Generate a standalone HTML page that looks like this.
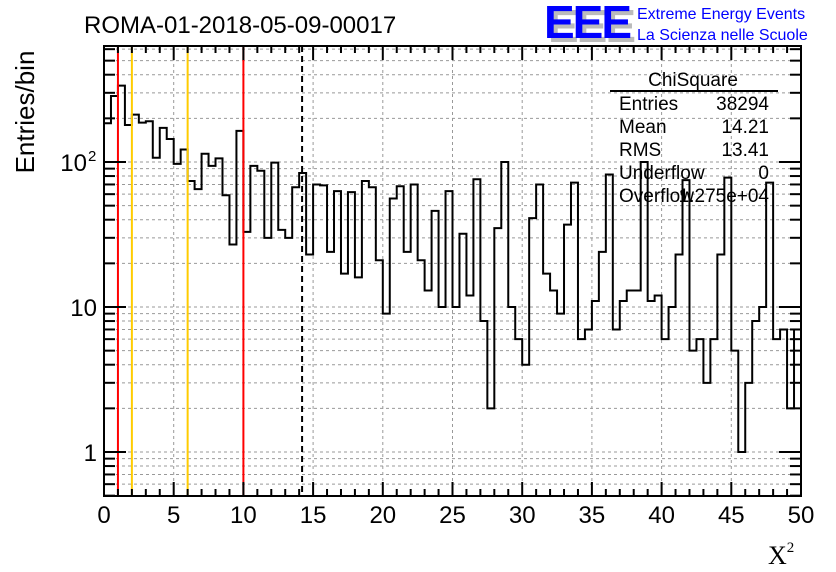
<!DOCTYPE html>
<html><head><meta charset="utf-8"><style>
body{margin:0;background:#fff;width:836px;height:572px;overflow:hidden}
svg{display:block;font-family:"Liberation Sans",sans-serif}
</style></head><body>
<svg id="c" width="836" height="572">
<text x="84" y="33" font-size="24">ROMA-01-2018-05-09-00017</text>
<g>
<text x="548" y="42" font-size="46" font-weight="bold" fill="#bbb" letter-spacing="-2">EEE</text>
<text x="544" y="38" font-size="46" font-weight="bold" fill="#0000ff" letter-spacing="-2">EEE</text>
<text x="637" y="19" font-size="16" fill="#0000ff">Extreme Energy Events</text>
<text x="637" y="40" font-size="16" fill="#0000ff">La Scienza nelle Scuole</text>
</g>
<text transform="translate(34,112) rotate(-90)" text-anchor="middle" font-size="26">Entries/bin</text>
<text x="768" y="564" font-size="26" font-family="Liberation Serif,serif">X<tspan font-size="15" dy="-12">2</tspan></text>
<g id="grid"></g><g id="marks"></g><g id="axes"></g>
<g font-size="19">
<text x="693" y="86" text-anchor="middle">ChiSquare</text>
<line x1="610" y1="91" x2="778" y2="91" stroke="#000" stroke-width="2"/>
<text x="619" y="110">Entries</text><text x="769" y="110" text-anchor="end">38294</text>
<text x="619" y="133">Mean</text><text x="769" y="133" text-anchor="end">14.21</text>
<text x="619" y="156">RMS</text><text x="769" y="156" text-anchor="end">13.41</text>
<text x="619" y="179">Underflow</text><text x="769" y="179" text-anchor="end">0</text>
<text x="619" y="202">Overflow</text><text x="769" y="202" text-anchor="end">1.275e+04</text>
</g>
</svg>
<script>
const counts=[185,285,336,180,212,187,191,107,172,144,97,122,74,65,114,94,106,59,27,164,
33,94,87,30,99,34,30,67,84,23,70,69,24,63,17,62,16,74,67,21,
9,56,68,24,70,21,13,46,10,63,10,32,12,76,8,2,35,100,10,6,
4,41,70,17,13,9,37,72,6,7,11,24,82,7,11,13,13,100,11,12,
6,10,23,75,5,6,3,6,23,78,5,1,3,8,10,72,6,7,2,7];
const xTicks=[0,5,10,15,20,25,30,35,40,45,50];
const yTicks=[1,10,100];
const yTickLabels=["1","10","10"];
const vLinesRed=[1,10];
const vLinesOrange=[2,6];
const meanLine=[14.21];
const binWidth=0.5;
const L=104,R=801,T=46,B=496;
const X=v=>L+(R-L)*v/50;
const Y=v=>452-145*Math.log10(v);
const NS="http://www.w3.org/2000/svg";
function mk(p,t,a){const e=document.createElementNS(NS,t);for(const k in a)e.setAttribute(k,a[k]);p.appendChild(e);return e;}
const grid=document.getElementById('grid'),marks=document.getElementById('marks'),axes=document.getElementById('axes');
for(const v of xTicks){if(v>0&&v<50){const g=mk(grid,'line',{x1:X(v),x2:X(v),y1:T,y2:B,stroke:'#999','stroke-dasharray':'3,3'});

}}
const minorY=[];for(let d=0.1;d<=100;d*=10)for(let m=1;m<10;m++){const v=d*m;if(Y(v)<B&&Y(v)>T)minorY.push(v);}
for(const v of minorY){const g=mk(grid,'line',{x1:L,x2:R,y1:Y(v),y2:Y(v),stroke:'#999','stroke-dasharray':'3,3'});

}
let d='M'+X(0)+','+Y(counts[0]);
counts.forEach((c,i)=>{d+=' L'+X(i*binWidth)+','+Y(c)+' L'+X((i+1)*binWidth)+','+Y(c);});
const h=mk(marks,'path',{d:d,fill:'none',stroke:'#000','stroke-width':2});


for(const v of vLinesRed){const l=mk(marks,'line',{x1:X(v),x2:X(v),y1:T,y2:B,stroke:'#f00','stroke-width':2});

}
for(const v of vLinesOrange){const l=mk(marks,'line',{x1:X(v),x2:X(v),y1:T,y2:B,stroke:'#fc0','stroke-width':2});

}
for(const v of meanLine){const l=mk(marks,'line',{x1:X(v),x2:X(v),y1:T,y2:B,stroke:'#000','stroke-width':2,'stroke-dasharray':'6,4'});

}
const f=mk(axes,'rect',{x:L,y:T,width:R-L,height:B-T,fill:'none',stroke:'#000','stroke-width':2});


for(let v=0;v<=50;v+=1){const len=v%5===0?14:7;
mk(axes,'line',{x1:X(v),x2:X(v),y1:B,y2:B-len,stroke:'#000','stroke-width':2});
mk(axes,'line',{x1:X(v),x2:X(v),y1:T,y2:T+len,stroke:'#000','stroke-width':2});}
xTicks.forEach(v=>{const t=mk(axes,'text',{x:X(v),y:523,'text-anchor':'middle','font-size':24});t.textContent=v;

});
for(const v of minorY){const len=yTicks.includes(v)?22:11;
mk(axes,'line',{x1:L,x2:L+len,y1:Y(v),y2:Y(v),stroke:'#000','stroke-width':2});
mk(axes,'line',{x1:R,x2:R-len,y1:Y(v),y2:Y(v),stroke:'#000','stroke-width':2});}
yTicks.forEach((v,i)=>{const t=mk(axes,'text',{x:v===100?87:97,y:Y(v)+9,'text-anchor':'end','font-size':24});t.textContent=yTickLabels[i];


if(v===100){const s=mk(axes,'text',{x:88,y:Y(v)-1,'font-size':15});s.textContent='2';

}});
</script>
</body></html>
